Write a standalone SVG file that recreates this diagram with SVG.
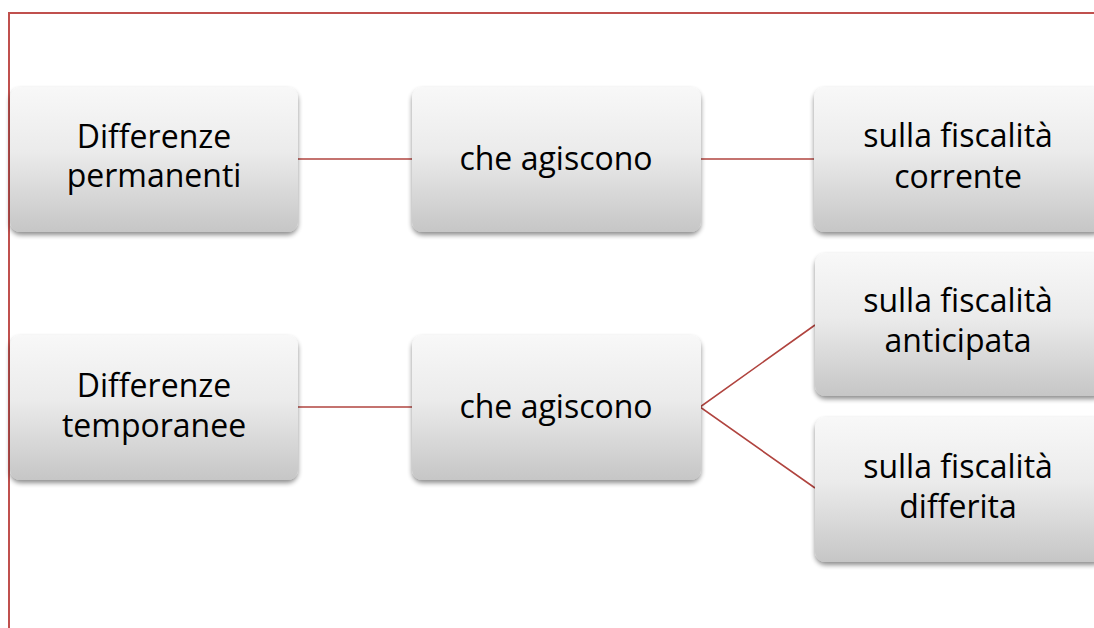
<svg xmlns="http://www.w3.org/2000/svg" width="1094" height="628" viewBox="0 0 1094 628">
<defs>
<linearGradient id="g" x1="0" y1="0" x2="0" y2="1">
<stop offset="0" stop-color="#f8f8f8"/>
<stop offset="0.45" stop-color="#ebebeb"/>
<stop offset="1" stop-color="#c6c6c6"/>
</linearGradient>
<filter id="sh" x="-10%" y="-10%" width="120%" height="130%">
<feGaussianBlur in="SourceAlpha" stdDeviation="2.5"/>
<feOffset dx="0" dy="3" result="b"/>
<feComponentTransfer><feFuncA type="linear" slope="0.45"/></feComponentTransfer>
<feMerge><feMergeNode/><feMergeNode in="SourceGraphic"/></feMerge>
</filter>
</defs>
<style>
.box{fill:url(#g);filter:url(#sh)}
.t{font-family:"Open Sans","Liberation Sans",sans-serif;font-size:32px;fill:#000;text-anchor:middle}
.c{stroke:#b0443f;stroke-width:1.6;fill:none}
.frame{stroke:#c0504d;stroke-width:2;fill:none}
</style>
<rect width="1094" height="628" fill="#fff"/>
<path class="frame" d="M9,640 V13 H1100"/>
<g id="connectors">
<line class="c" x1="298" y1="159" x2="412" y2="159"/>
<line class="c" x1="701" y1="159" x2="814" y2="159"/>
<line class="c" x1="298" y1="407" x2="412" y2="407"/>
<polyline class="c" points="815,325 700,407 815,488"/>
</g>
<g id="n1"><rect class="box" x="10" y="87" width="288" height="145" rx="11"/>
<text class="t" x="154" y="148">Differenze</text><text class="t" x="154" y="187">permanenti</text></g>
<g id="n2"><rect class="box" x="412" y="87" width="289" height="145" rx="11"/>
<text class="t" x="556" y="170">che agiscono</text></g>
<g id="n3"><rect class="box" x="814" y="87" width="289" height="145" rx="11"/>
<text class="t" x="958" y="147">sulla fiscalità</text><text class="t" x="958" y="188">corrente</text></g>
<g id="n4"><rect class="box" x="10" y="335" width="288" height="145" rx="11"/>
<text class="t" x="154" y="397">Differenze</text><text class="t" x="154" y="437">temporanee</text></g>
<g id="n5"><rect class="box" x="412" y="335" width="289" height="145" rx="11"/>
<text class="t" x="556" y="418">che agiscono</text></g>
<g id="n6"><rect class="box" x="815" y="253" width="289" height="143" rx="11"/>
<text class="t" x="958" y="312">sulla fiscalità</text><text class="t" x="958" y="352">anticipata</text></g>
<g id="n7"><rect class="box" x="815" y="417" width="289" height="145" rx="11"/>
<text class="t" x="958" y="478">sulla fiscalità</text><text class="t" x="958" y="518">differita</text></g>
</svg>
